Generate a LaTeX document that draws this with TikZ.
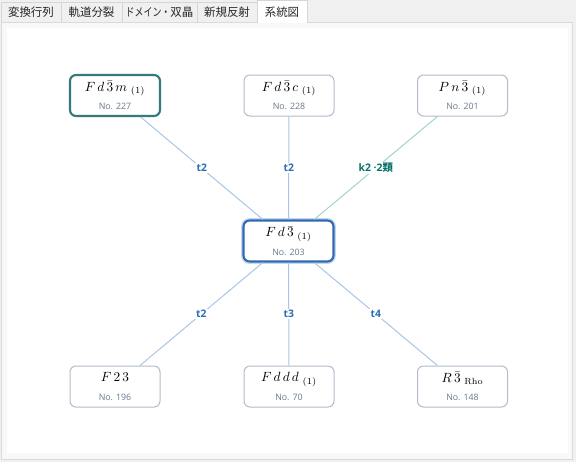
\documentclass[tikz,border=0pt]{standalone}
\usepackage{amsmath}
\usepackage{fontspec}
\setsansfont{Open Sans}
\newfontfamily\jpfont{Noto Sans CJK JP}
\usepackage{tikz}

\definecolor{winbg}{RGB}{240,240,240}
\definecolor{tabline}{RGB}{214,214,214}
\definecolor{panelline}{RGB}{218,218,218}
\definecolor{panelbg}{RGB}{248,248,248}
\definecolor{boxline}{RGB}{178,188,202}
\definecolor{tealsel}{RGB}{52,122,122}
\definecolor{bluesel}{RGB}{50,106,178}
\definecolor{blueglow}{RGB}{196,216,240}
\definecolor{edgeblue}{RGB}{170,198,228}
\definecolor{edgeteal}{RGB}{162,212,200}
\definecolor{labblue}{RGB}{44,110,182}
\definecolor{labteal}{RGB}{8,116,104}
\definecolor{nogray}{RGB}{104,120,140}

\tikzset{
  sgbox/.style={draw=boxline, fill=white, rounded corners=4.5pt, line width=0.75pt,
    minimum width=67.5pt, minimum height=30.75pt, align=center, inner sep=0pt},
  sgsel/.style={sgbox, draw=tealsel, line width=1.6pt},
  sgcur/.style={sgbox, draw=bluesel, line width=1.6pt,
    preaction={draw=blueglow, line width=3.6pt}},
  edge/.style={draw=edgeblue, line width=0.75pt},
  edgek/.style={draw=edgeteal, line width=0.75pt},
  lab/.style={fill=white, inner sep=1pt, text=labblue, font=\sffamily\bfseries\fontsize{7.8}{9}\selectfont},
  labk/.style={lab, text=labteal},
  tabtxt/.style={font=\jpfont\fontsize{8.6}{10}\selectfont, text=black!85, inner sep=0pt}
}
\newcommand{\grp}[2]{{\fontsize{9.6}{10}\selectfont #1}\\[1.8pt]{\sffamily\fontsize{6.6}{8}\selectfont\color{nogray}No. #2}}

\begin{document}
\begin{tikzpicture}[x=0.75pt,y=0.75pt,yscale=-1,xscale=1]
\useasboundingbox (0,0) rectangle (576,462);

%Window background
\fill [winbg] (0,0) rectangle (576,462);

%Tabs
\draw [tabline, fill=winbg] (1,2.5) rectangle (61,22.5);
\draw [tabline, fill=winbg] (61,2.5) rectangle (122,22.5);
\draw [tabline, fill=winbg] (122,2.5) rectangle (197,22.5);
\draw [tabline, fill=winbg] (197,2.5) rectangle (257,22.5);

%Panel
\draw [panelline, fill=panelbg] (1.5,22.5) rectangle (572.5,459.5);
\fill [white] (7,28) rectangle (568,453);

%Selected tab
\draw [tabline, fill=white] (257,23) -- (257,0.5) -- (307,0.5) -- (307,23);

% Text Node
\node [tabtxt] (tabA) at (31,12.5) {変換行列};
% Text Node
\node [tabtxt] (tabB) at (91.5,12.5) {軌道分裂};
% Text Node
\node [tabtxt] (tabC) at (159.5,12.5) {\scalebox{0.78}[1]{ドメイン・}双晶};
% Text Node
\node [tabtxt] (tabD) at (227,12.5) {新規反射};
% Text Node
\node [tabtxt] (tabE) at (282,12.5) {系統図};

%Group boxes
\node [sgsel] (fdbm) at (115,95.5) {\grp{$F\,d\,\bar{3}\,m\;{}_{(1)}$}{227}};
\node [sgbox] (fdbc) at (289,95.5) {\grp{$F\,d\,\bar{3}\,c\;{}_{(1)}$}{228}};
\node [sgbox] (pnb) at (462.5,95.5) {\grp{$P\,n\,\bar{3}\;{}_{(1)}$}{201}};
\node [sgcur] (fdb) at (288.5,241) {\grp{$F\,d\,\bar{3}\;{}_{(1)}$}{203}};
\node [sgbox] (ftt) at (115,386.5) {\grp{$F\,2\,3$}{196}};
\node [sgbox] (fddd) at (289,386.5) {\grp{$F\,d\,d\,d\;{}_{(1)}$}{70}};
\node [sgbox] (rbr) at (462.5,386.5) {\grp{$R\,\bar{3}\;{}_{\mathrm{Rho}}$}{148}};

%Straight Lines
\draw [edge] (fdb) -- (fdbm) node [lab, midway] {t2};
\draw [edge] (fdb) -- (fdbc) node [lab, midway] {t2};
\draw [edgek] (fdb) -- (pnb) node [labk, midway] {k2 ·2{\jpfont\bfseries 類}};
\draw [edge] (fdb) -- (ftt) node [lab, midway] {t2};
\draw [edge] (fdb) -- (fddd) node [lab, midway] {t3};
\draw [edge] (fdb) -- (rbr) node [lab, midway] {t4};

\end{tikzpicture}
\end{document}
